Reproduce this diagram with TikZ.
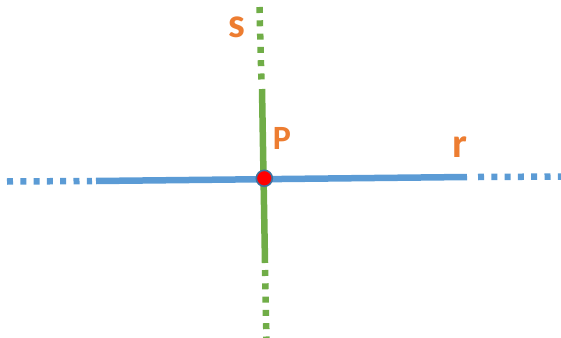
\documentclass[tikz,border=0pt]{standalone}
\usepackage{fontspec}
\setmainfont{Carlito}
\definecolor{lblue}{HTML}{5B9BD5}
\definecolor{lgreen}{HTML}{70AD47}
\definecolor{lorange}{HTML}{ED7D31}
\definecolor{dborder}{HTML}{41719C}
\begin{document}
\begin{tikzpicture}[x=1pt,y=-1pt,
  bline/.style={lblue,line width=6.5pt},
  gline/.style={lgreen,line width=6.5pt},
  dotline/.style={dash pattern=on 6pt off 7.3pt},
  lbl/.style={text=lorange,font=\bfseries,inner sep=0pt}]
\useasboundingbox (0,0) rectangle (561,337);
% blue line r
\coordinate (rl0) at (7,181.5);
\coordinate (rl1) at (92,181);
\coordinate (rs0) at (96,181);
\coordinate (rs1) at (467,177);
\coordinate (rr0) at (478,177);
\coordinate (rr1) at (566,176.5);
\draw[bline,dotline] (rl0) -- (rl1);
\draw[bline] (rs0) -- (rs1);
\draw[bline,dotline] (rr0) -- (rr1);
% green line s
\coordinate (st0) at (259.5,7);
\coordinate (st1) at (261.5,84);
\coordinate (ss0) at (262,89);
\coordinate (ss1) at (265,263);
\coordinate (sb0) at (265,270);
\coordinate (sb1) at (266.5,340);
\draw[gline,dotline] (st0) -- (st1);
\draw[gline] (ss0) -- (ss1);
\draw[gline,dotline] (sb0) -- (sb1);
% point P
\node[circle,fill=red,draw=dborder,line width=1.6pt,minimum size=16pt,inner sep=0pt] (P) at (264.3,178.3) {};
% labels
\node[lbl,font=\bfseries\fontsize{42}{42}\selectfont] (ls) at (236.5,27) {s};
\node[lbl,font=\bfseries\fontsize{34}{34}\selectfont] (lP) at (282,138) {P};
\node[lbl,font=\bfseries\fontsize{42}{42}\selectfont] (lr) at (460,147) {r};
\end{tikzpicture}
\end{document}
